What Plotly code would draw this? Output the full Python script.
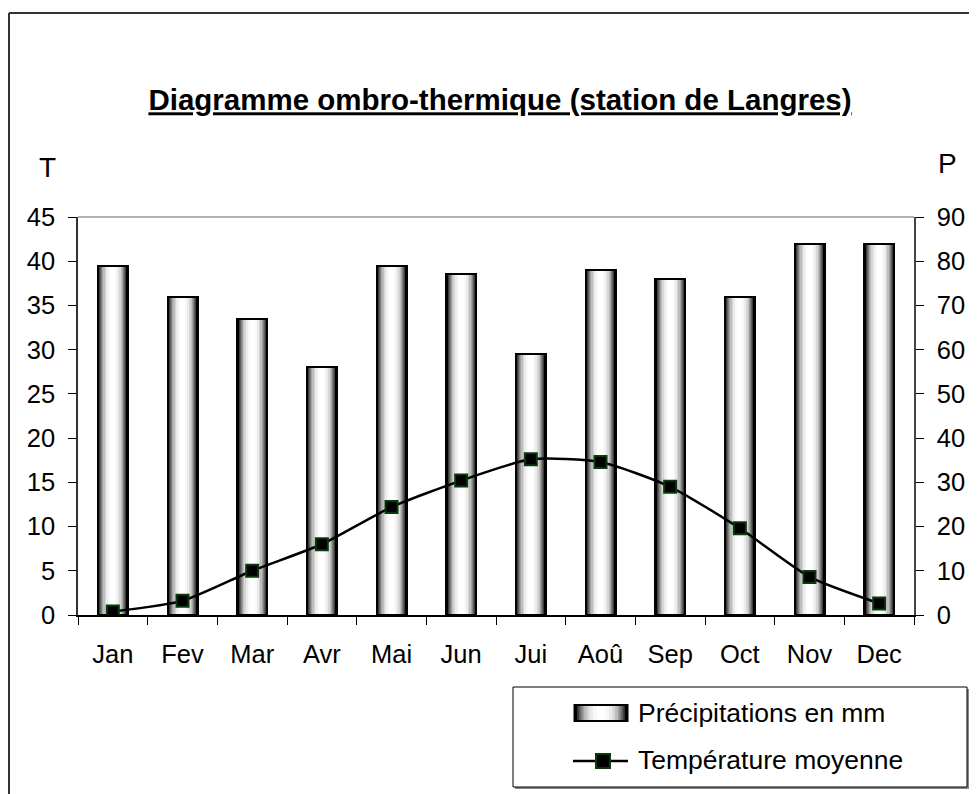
import plotly.graph_objects as go

# ---------------- data ----------------
months = ["Jan", "Fev", "Mar", "Avr", "Mai", "Jun", "Jui", "Aoû", "Sep", "Oct", "Nov", "Dec"]
precipitations = [79, 72, 67, 56, 79, 77, 59, 78, 76, 72, 84, 84]
temperatures = [0.4, 1.6, 5.0, 8.0, 12.2, 15.2, 17.6, 17.3, 14.5, 9.8, 4.3, 1.3]

title_text = "Diagramme ombro-thermique (station de Langres)"
bar_name = "Précipitations en mm"
line_name = "Température moyenne"

# ---------------- geometry / style ----------------
OFF = 8                                   # page body margin
W, H = 977 - OFF, 794 - OFF
PL, PR, PT, PB = 78, 914, 217, 615        # plot area in page px
FONT = "Liberation Sans, Arial, sans-serif"
TICK_SIZE = 25.5

CAT_PX = (PR - PL) / len(months)
BAR_PX = 30
# cylinder gradient: (width px, colour) from outside to centre
GRADIENT = [(30, "#000000"), (27, "#3c3c3c"), (25, "#5e5e5e"), (23, "#808080"),
            (21, "#a0a0a0"), (19, "#bdbdbd"), (16, "#d6d6d6"), (13, "#ebebeb"),
            (9, "#f8f8f8"), (5, "#ffffff")]


def px_x(px):
    return (px - PL) / (PR - PL)


def px_y(py):
    return (PB - py) / (PB - PT)


fig = go.Figure()

for wpx, col in GRADIENT:
    fig.add_trace(go.Bar(x=months, y=precipitations, width=wpx / CAT_PX,
                         marker=dict(color=col, line=dict(width=0)),
                         yaxis="y", showlegend=False, hoverinfo="skip"))
# outline
fig.add_trace(go.Bar(x=months, y=precipitations, width=BAR_PX / CAT_PX, name=bar_name,
                     marker=dict(color="rgba(0,0,0,0)", line=dict(color="#000000", width=2)),
                     yaxis="y", showlegend=False))

fig.add_trace(go.Scatter(x=months, y=temperatures, name=line_name, mode="lines+markers",
                         line=dict(color="#000000", width=2.5, shape="spline", smoothing=0.6),
                         marker=dict(symbol="square", size=12, color="#000000",
                                     line=dict(color="#0a3a0a", width=2)),
                         yaxis="y2", showlegend=False))

shapes = []
# outer frame (top and left visible)
shapes.append(dict(type="line", xref="paper", yref="paper", x0=px_x(9), x1=px_x(990),
                   y0=px_y(13), y1=px_y(13), line=dict(color="#333333", width=2)))
shapes.append(dict(type="line", xref="paper", yref="paper", x0=px_x(9), x1=px_x(9),
                   y0=px_y(13), y1=px_y(810), line=dict(color="#333333", width=2)))
# top border of plot area (grey)
shapes.append(dict(type="line", xref="paper", yref="paper", x0=0, x1=1, y0=1, y1=1,
                   line=dict(color="#999999", width=1.5)))
# legend box with shadow
shapes.append(dict(type="rect", xref="paper", yref="paper", x0=px_x(515), x1=px_x(969),
                   y0=px_y(689), y1=px_y(789), line=dict(width=0), fillcolor="#888888"))
shapes.append(dict(type="rect", xref="paper", yref="paper", x0=px_x(513), x1=px_x(967),
                   y0=px_y(687), y1=px_y(787), line=dict(color="#000000", width=1),
                   fillcolor="#ffffff"))
# legend swatch for bars (gradient)
sw_cx, sw_w, sw_y0, sw_y1 = 601, 53, 705, 721
for wpx, col in GRADIENT:
    ww = sw_w * wpx / BAR_PX
    shapes.append(dict(type="rect", xref="paper", yref="paper",
                       x0=px_x(sw_cx - ww / 2), x1=px_x(sw_cx + ww / 2),
                       y0=px_y(sw_y1), y1=px_y(sw_y0), line=dict(width=0), fillcolor=col))
shapes.append(dict(type="rect", xref="paper", yref="paper",
                   x0=px_x(sw_cx - sw_w / 2), x1=px_x(sw_cx + sw_w / 2),
                   y0=px_y(sw_y1), y1=px_y(sw_y0), line=dict(color="#000000", width=2)))
# legend swatch for line
shapes.append(dict(type="line", xref="paper", yref="paper", x0=px_x(573), x1=px_x(628),
                   y0=px_y(761), y1=px_y(761), line=dict(color="#000000", width=2.5)))
shapes.append(dict(type="rect", xref="paper", yref="paper", x0=px_x(596), x1=px_x(610),
                   y0=px_y(768), y1=px_y(754), line=dict(color="#0a3a0a", width=2),
                   fillcolor="#000000"))

annotations = [
    dict(text="T", xref="paper", yref="paper", x=px_x(47), y=px_y(167), showarrow=False,
         xanchor="center", yanchor="middle", font=dict(size=28, color="#000000", family=FONT)),
    dict(text="P", xref="paper", yref="paper", x=px_x(947), y=px_y(164), showarrow=False,
         xanchor="center", yanchor="middle", font=dict(size=28, color="#000000", family=FONT)),
    dict(text=bar_name, xref="paper", yref="paper", x=px_x(636), y=px_y(713), showarrow=False,
         xanchor="left", yanchor="middle", font=dict(size=26.5, color="#000000", family=FONT)),
    dict(text=line_name, xref="paper", yref="paper", x=px_x(636), y=px_y(760), showarrow=False,
         xanchor="left", yanchor="middle", font=dict(size=26.5, color="#000000", family=FONT)),
]

fig.update_layout(
    width=W, height=H,
    margin=dict(l=PL - OFF, r=W - (PR - OFF), t=PT - OFF, b=H - (PB - OFF), autoexpand=False),
    paper_bgcolor="#ffffff", plot_bgcolor="#ffffff",
    barmode="overlay", bargap=0,
    showlegend=False,
    font=dict(family=FONT, color="#000000", size=24),
    title=dict(text="<b><u>" + title_text + "</u></b>", xref="container", yref="container",
               x=(500 - OFF) / W, xanchor="center", y=1 - (100 - OFF) / H, yanchor="middle",
               font=dict(size=29.5, family=FONT, color="#000000")),
    xaxis=dict(type="category", categoryorder="array", categoryarray=months,
               range=[-0.5, len(months) - 0.5],
               showline=True, linecolor="#000000", linewidth=1.5,
               ticks="outside", ticklen=8, tickcolor="#000000", tickwidth=1,
               tickson="boundaries", showgrid=False, zeroline=False,
               tickfont=dict(size=TICK_SIZE, family=FONT, color="#000000"),
               ticklabelstandoff=16),
    yaxis=dict(side="right", range=[0, 90], dtick=10, tick0=0,
               showline=True, linecolor="#444444", linewidth=1.5,
               ticks="outside", ticklen=8, tickcolor="#000000",
               showgrid=False, zeroline=False,
               tickfont=dict(size=TICK_SIZE, family=FONT, color="#000000"),
               ticklabelstandoff=8),
    yaxis2=dict(side="left", overlaying="y", range=[0, 45], dtick=5, tick0=0,
                showline=True, linecolor="#333333", linewidth=1.5,
                ticks="outside", ticklen=8, tickcolor="#000000",
                showgrid=False, zeroline=False,
                tickfont=dict(size=TICK_SIZE, family=FONT, color="#000000"),
                ticklabelstandoff=8),
    shapes=shapes,
    annotations=annotations,
)

fig.write_html("out.html")
